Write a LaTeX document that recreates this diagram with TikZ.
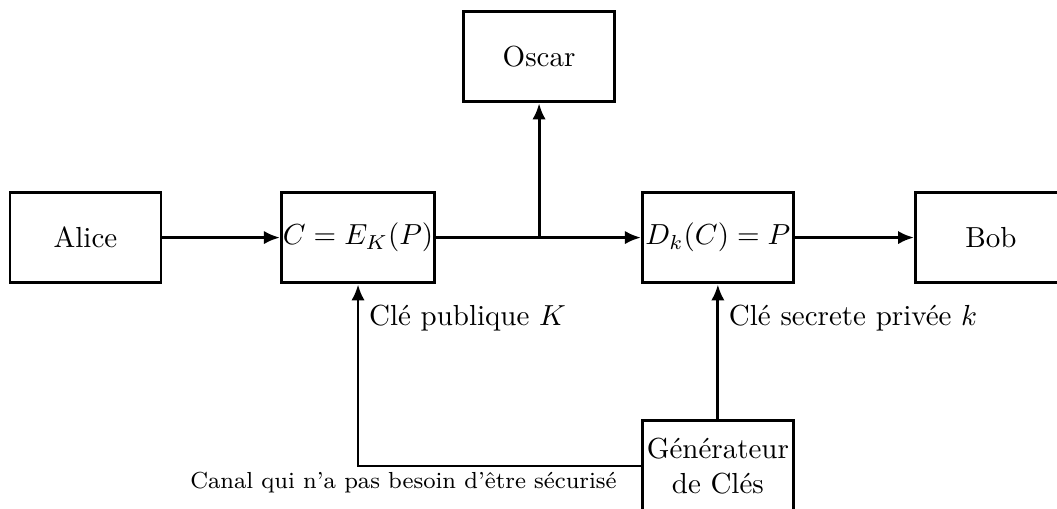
\documentclass[tikz,border=0pt]{standalone}
\usepackage{fontspec}
\usetikzlibrary{arrows.meta}
\begin{document}
\begin{tikzpicture}[line width=1pt,
        boite/.style = {draw, rectangle, minimum width=1.83cm, minimum height=1.1cm, inner sep=0.5pt},
        fleche/.style = {-{Latex[length=5.5pt, width=4.6pt]}}]
        \useasboundingbox (0, 0) rectangle (12.81, 6.158);
        \node[boite] (alice) at (1.036, 3.279) {Alice};
        \node[boite] (enc) at (4.339, 3.279) {$C = E_K(P)$};
        \node[boite] (oscar) at (6.533, 5.473) {Oscar};
        \node[boite] (dec) at (8.70, 3.279) {$D_k(C) = P$};
        \node[boite] (bob) at (12.01, 3.279) {Bob};
        \node[boite, align=center] (gen) at (8.70, 0.51) {Générateur\\de Clés};
        \coordinate (bifur) at (oscar |- enc);
        \draw[fleche] (alice) -- (enc);
        \draw[fleche] (enc) -- (dec);
        \draw[fleche] (bifur) -- (oscar);
        \draw[fleche] (dec) -- (bob);
        \draw[fleche] (gen) -- (dec);
        \draw[fleche] (gen.west) -| (enc.south);
        \node[right] (clepub) at (4.339, 2.30) {Clé publique $K$};
        \node[right] (clepriv) at (8.70, 2.30) {Clé secrete privée $k$};
        \node[anchor=north east, font=\footnotesize] (canal) at ([xshift=-0.16cm, yshift=0.06cm]gen.west) {Canal qui n'a pas besoin d'être sécurisé};
    \end{tikzpicture}
\end{document}
